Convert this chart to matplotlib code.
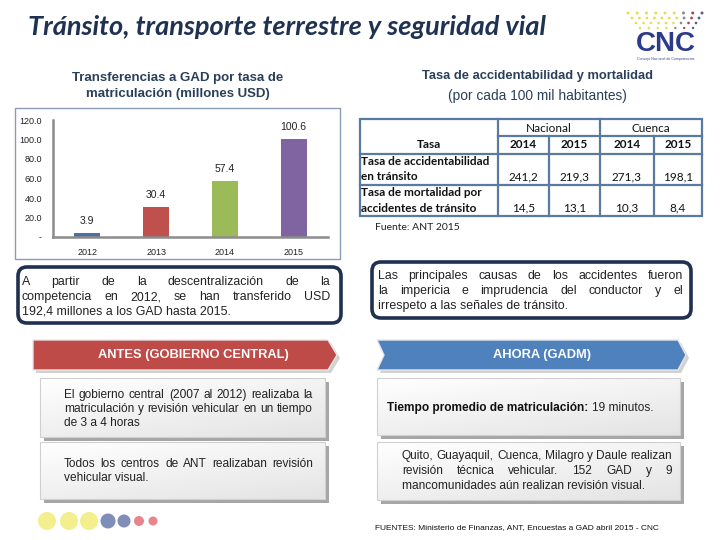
import numpy as np
import matplotlib
matplotlib.use("Agg")
import matplotlib.pyplot as plt
from matplotlib.patches import Rectangle, Polygon, FancyBboxPatch, Circle
from matplotlib.colors import LinearSegmentedColormap
from matplotlib import font_manager

# data
years = ["2012", "2013", "2014", "2015"]
transfers = [3.9, 30.4, 57.4, 100.6]
bar_colors = ["#4F6FA0", "#C0504D", "#9BBB59", "#8064A2"]

table_rows = [["Tasa de accidentabilidad", "en tránsito"],
              ["Tasa de mortalidad por", "accidentes de tránsito"]]
table_groups = ["Nacional", "Cuenca"]
table_years = ["2014", "2015", "2014", "2015"]
nacional_2014 = [241.2, 14.5]
nacional_2015 = [219.3, 13.1]
cuenca_2014 = [271.3, 10.3]
cuenca_2015 = [198.1, 8.4]

names = {f.name for f in font_manager.fontManager.ttflist}
NARROW = "Liberation Sans Narrow" if "Liberation Sans Narrow" in names else "Liberation Sans"
ARIAL = "Liberation Sans"
CAL = "Lato" if "Lato" in names else "DejaVu Sans"
NAVY = "#1F3251"

fig = plt.figure(figsize=(7.2, 5.4), dpi=100)
ax0 = fig.add_axes([0, 0, 1, 1])
ax0.set_xlim(0, 720)
ax0.set_ylim(540, 0)
ax0.axis("off")
rend = fig.canvas.get_renderer()


def txt_width(s, size, family, weight="normal"):
    t = ax0.text(0, 0, s, fontsize=size, family=family, weight=weight)
    w = t.get_window_extent(rend).width
    t.remove()
    return w


def put_line(s, x0, x1, y, size, family=NARROW, weight="normal", justify=True, color="#222222"):
    words = s.split()
    if not justify or len(words) < 2:
        ax0.text(x0, y, s, fontsize=size, family=family, weight=weight,
                 color=color, va="center", ha="left")
        return
    widths = [txt_width(w, size, family, weight) for w in words]
    gap = (x1 - x0 - sum(widths)) / (len(words) - 1)
    x = x0
    for w, wd in zip(words, widths):
        ax0.text(x, y, w, fontsize=size, family=family, weight=weight,
                 color=color, va="center", ha="left")
        x += wd + gap


def para(lines, x0, x1, y0, dy, size, family=NARROW):
    for i, ln in enumerate(lines):
        put_line(ln, x0, x1, y0 + i * dy, size, family, justify=(i < len(lines) - 1))


# main title
ax0.text(28, 27, "Tránsito, transporte terrestre y seguridad vial", fontsize=19.5,
         family=CAL, weight="bold", style="italic", color=NAVY, va="center")

# logo
for r, (yy, n) in enumerate([(13, 9), (18, 10), (23, 9), (28, 7)]):
    xs = np.linspace(628 + r * 4, 702 - r * 3, n)
    for k, xx in enumerate(xs):
        c = "#E8DC55" if k < n - 3 else ["#8A8A8A", "#B04050", "#5A5A8A"][k - (n - 3)]
        ax0.add_patch(Circle((xx, yy), 1.5 - r * 0.1, color=c, lw=0))
ax0.text(666, 44, "CNC", fontsize=20, family=ARIAL, weight="bold", color="#2B3A8C",
         ha="center", va="center")
ax0.text(666, 59, "Consejo Nacional de Competencias", fontsize=2.6, family=ARIAL,
         color="#3A4A8A", ha="center", va="center")

# bar chart
ax0.text(178, 86, "Transferencias a GAD por tasa de\nmatriculación (millones USD)",
         fontsize=9.5, family=ARIAL, weight="bold", color="#2A3F5A",
         ha="center", va="center", linespacing=1.45)
ax0.add_patch(Rectangle((15, 108), 325, 151, fill=False, ec="#8A9BB5", lw=1))

ax = fig.add_axes([53 / 720, 1 - 237 / 540, (328 - 53) / 720, (237 - 120) / 540])
ax.patch.set_alpha(0)
x = np.arange(len(years))
ax.bar(x, transfers, width=0.38, color=bar_colors)
for xi, v in zip(x, transfers):
    ax.annotate(f"{v:.1f}", (xi, v), xytext=(0, 5), textcoords="offset points",
                ha="center", va="bottom", fontsize=7.5, family=ARIAL, color="#222222")
ax.set_xlim(-0.5, 3.5)
ax.set_ylim(0, 120)
yt = np.arange(0, 121, 20)
ax.set_yticks(yt)
ax.set_yticklabels(["-" if v == 0 else f"{v:.1f}" for v in yt])
ax.set_xticks(x)
ax.set_xticklabels(years)
ax.tick_params(length=0, labelsize=6.5, colors="#222222", pad=8)
for lab in ax.get_xticklabels() + ax.get_yticklabels():
    lab.set_family(ARIAL)
for s in ["top", "right"]:
    ax.spines[s].set_visible(False)
for s in ["left", "bottom"]:
    ax.spines[s].set_color("#8C8C8C")
    ax.spines[s].set_linewidth(1.8)

# table
ax0.text(537, 76, "Tasa de accidentabilidad y mortalidad", fontsize=9.3, family=ARIAL,
         weight="bold", color="#2A3F5A", ha="center", va="center")
ax0.text(537, 96, "(por cada 100 mil habitantes)", fontsize=9.9, family=ARIAL,
         color="#2A3F5A", ha="center", va="center")
cx = [360, 498, 549, 600, 654, 702]
ry = [119, 136, 154, 185, 216]
lc, lw = "#5A7AA0", 1.6
ax0.add_patch(Rectangle((cx[0], ry[0]), cx[-1] - cx[0], ry[-1] - ry[0], fill=False, ec=lc, lw=lw))
ax0.plot([cx[1], cx[-1]], [ry[1], ry[1]], color=lc, lw=lw)
for yy in ry[2:4]:
    ax0.plot([cx[0], cx[-1]], [yy, yy], color=lc, lw=lw)
for xx in (cx[1], cx[3]):
    ax0.plot([xx, xx], [ry[0], ry[-1]], color=lc, lw=lw)
for xx in (cx[2], cx[4]):
    ax0.plot([xx, xx], [ry[1], ry[-1]], color=lc, lw=lw)
ax0.text((cx[0] + cx[1]) / 2, 145, "Tasa", fontsize=8.5, family=CAL, weight="bold",
         ha="center", va="center", color="#111111")
for g, (a, b) in zip(table_groups, [(cx[1], cx[3]), (cx[3], cx[5])]):
    ax0.text((a + b) / 2, 128, g, fontsize=8.5, family=CAL, ha="center", va="center", color="#111111")
for i, yr in enumerate(table_years):
    ax0.text((cx[i + 1] + cx[i + 2]) / 2, 145, yr, fontsize=8.5, family=CAL, weight="bold",
             ha="center", va="center", color="#111111")
cols = [nacional_2014, nacional_2015, cuenca_2014, cuenca_2015]
for r, lines in enumerate(table_rows):
    top = ry[r + 2]
    ax0.text(cx[0] + 1, top + 7.5, lines[0], fontsize=8.5, family=CAL, weight="bold",
             va="center", color="#111111")
    ax0.text(cx[0] + 1, top + 23, lines[1], fontsize=8.5, family=CAL, weight="bold",
             va="center", color="#111111")
    for i, col in enumerate(cols):
        ax0.text((cx[i + 1] + cx[i + 2]) / 2, top + 23, f"{col[r]:.1f}".replace(".", ","),
                 fontsize=8.5, family=CAL, ha="center", va="center", color="#111111")
ax0.text(375, 228, "Fuente: ANT 2015", fontsize=7.5, family=CAL, va="center", color="#222222")

# rounded text boxes
for (bx0, by0, bx1, by1) in [(18, 267, 341, 323), (372, 262, 691, 318)]:
    ax0.add_patch(FancyBboxPatch((bx0, by0), bx1 - bx0, by1 - by0,
                                 boxstyle="round,pad=0,rounding_size=9",
                                 fc="white", ec="#1F3050", lw=2.6))
para(["A partir de la descentralización de la",
      "competencia en 2012, se han transferido USD",
      "192,4 millones a los GAD hasta 2015."], 22, 330, 282, 15, 8.9)
para(["Las principales causas de los accidentes fueron",
      "la impericia e imprudencia del conductor y el",
      "irrespeto a las señales de tránsito."], 378, 683, 276, 15, 8.9)


# banners
def banner(pts, color):
    sh = [(px + 3, py + 3) for px, py in pts]
    ax0.add_patch(Polygon(sh, closed=True, fc="#D2D2D2", ec="none"))
    ax0.add_patch(Polygon(pts, closed=True, fc=color, ec="#E6E6E6", lw=1))


banner([(33, 340), (328, 340), (337, 355), (328, 370), (33, 370)], "#BE4B48")
ax0.text(193, 355, "ANTES (GOBIERNO CENTRAL)", fontsize=9.3, family=ARIAL, weight="bold",
         color="white", ha="center", va="center")
banner([(377, 340), (678, 340), (686, 355), (678, 370), (377, 370), (384, 355)], "#4F81BD")
ax0.text(542, 355, "AHORA (GADM)", fontsize=9.3, family=ARIAL, weight="bold",
         color="white", ha="center", va="center")

# gradient boxes
cmap = LinearSegmentedColormap.from_list("g", ["#FFFFFF", "#E4E4E4"])
gx, gy = np.meshgrid(np.linspace(0, 1, 60), np.linspace(0, 1, 30))
grad = (gx * 0.4 + gy * 0.6)
boxes = [(40, 378, 325, 437), (40, 442, 325, 499), (377, 378, 680, 435), (377, 442, 680, 500)]
for (bx0, by0, bx1, by1) in boxes:
    ax0.add_patch(Rectangle((bx0 + 4, by0 + 4), bx1 - bx0, by1 - by0, fc="#A6A6A6", ec="none"))
    ax0.imshow(grad, extent=(bx0, bx1, by1, by0), cmap=cmap, aspect="auto",
               interpolation="bilinear", zorder=1)
    ax0.add_patch(Rectangle((bx0, by0), bx1 - bx0, by1 - by0, fill=False, ec="#D0D0D0", lw=0.8, zorder=2))
ax0.set_xlim(0, 720)
ax0.set_ylim(540, 0)

para(["El gobierno central (2007 al 2012)  realizaba la",
      "matriculación y revisión vehicular en un tiempo",
      "de 3 a 4 horas"], 64, 313, 395, 14, 8.6)
para(["Todos los centros de ANT realizaban revisión",
      "vehicular visual."], 64, 313, 464, 14, 8.6)
bold_part = "Tiempo promedio de matriculación:"
ax0.text(387, 408, bold_part, fontsize=8.6, family=NARROW, weight="bold", va="center", color="#111111")
bw = txt_width(bold_part + " ", 8.6, NARROW, "bold")
ax0.text(387 + bw, 408, "19 minutos.", fontsize=8.6, family=NARROW, va="center", color="#222222")
para(["Quito, Guayaquil, Cuenca, Milagro y Daule realizan",
      "revisión técnica vehicular. 152 GAD y 9",
      "mancomunidades aún realizan revisión visual."], 402, 672, 456, 15, 8.6)

# decorative dots
for (cxx, r, c) in [(47, 9, "#F3EE8E"), (69, 9, "#F3EE8E"), (89, 9, "#F3EE8E"),
                    (108, 7.5, "#7F8DB9"), (124, 6.5, "#7F8DB9"),
                    (139, 5, "#E9848F"), (153, 4.5, "#E9848F")]:
    ax0.add_patch(Circle((cxx, 521), r, color=c, lw=0))

ax0.text(375, 528, "FUENTES: Ministerio de Finanzas, ANT, Encuestas a GAD abril 2015 - CNC",
         fontsize=6, family=ARIAL, va="center", color="#111111")

fig.savefig("out.png", dpi=100)
